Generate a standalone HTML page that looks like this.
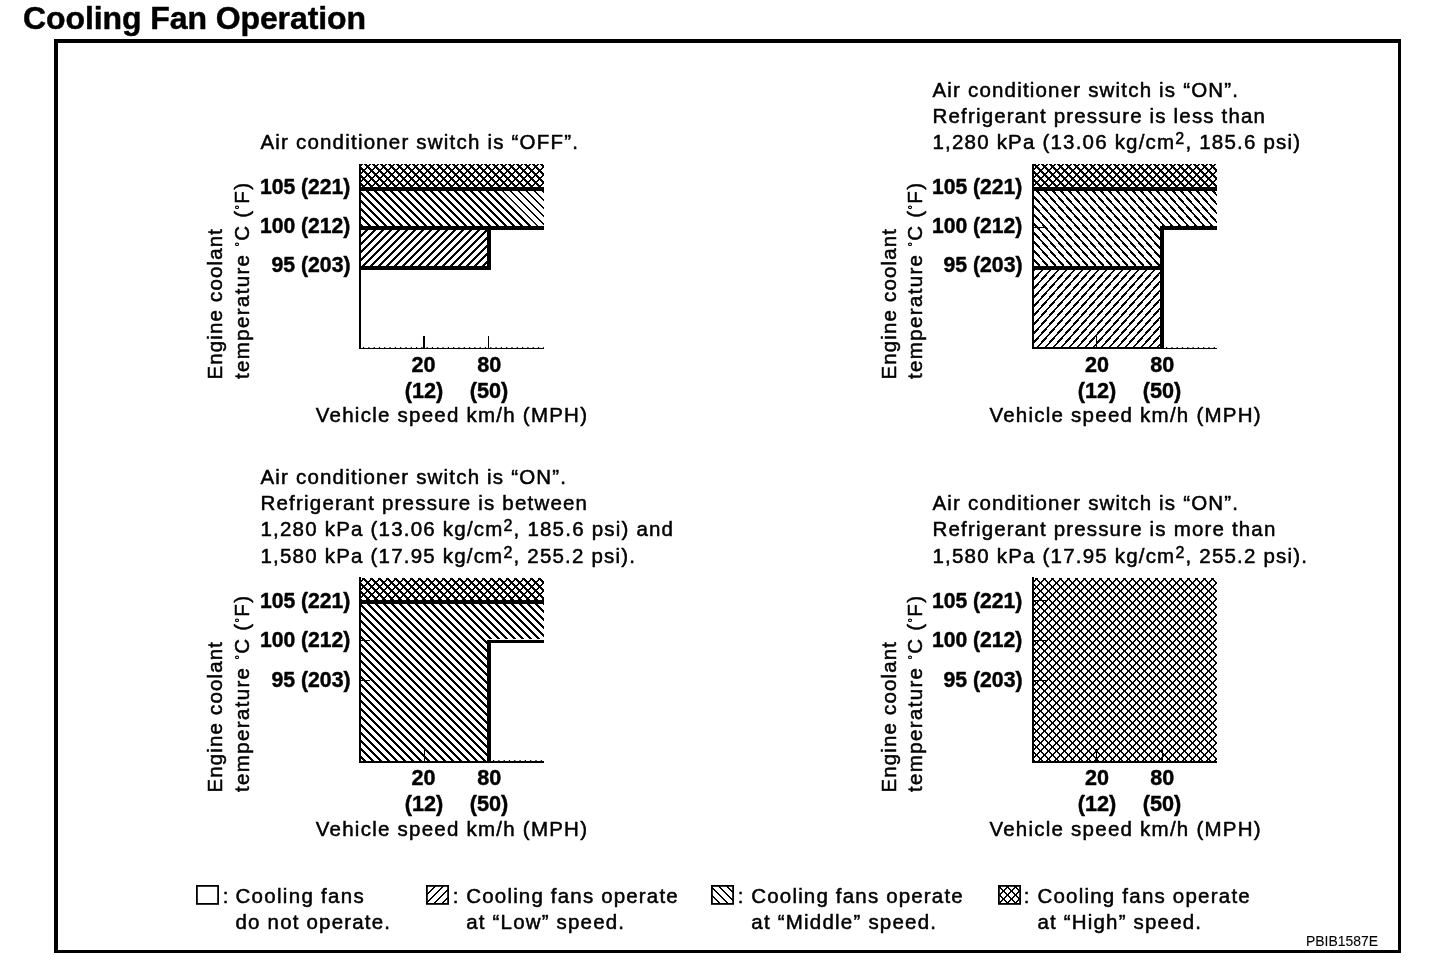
<!DOCTYPE html>
<html lang="en"><head><meta charset="utf-8"><title>Cooling Fan Operation</title>
<style>html,body{margin:0;padding:0;background:#fff}body{width:1440px;height:966px;overflow:hidden}svg{display:block}text{font-family:"Liberation Sans",sans-serif;fill:#000;stroke:#000;stroke-width:0.5px;stroke-linejoin:round}text.b{stroke-width:0.45px}</style>
</head><body>
<svg width="1440" height="966" viewBox="0 0 1440 966">
<defs>
<pattern id="c1hi" patternUnits="userSpaceOnUse" width="8" height="8" x="0" y="0"><path d="M0 0h3v1h-3zM5 0h2v1h-2zM1 1h5v1h-5zM2 2h3v1h-3zM2 3h4v1h-4zM1 4h2v1h-2zM4 4h3v1h-3zM0 5h2v1h-2zM5 5h3v1h-3zM0 6h1v1h-1zM6 6h2v1h-2zM0 7h2v1h-2zM6 7h2v1h-2z" fill="#000" shape-rendering="crispEdges"/></pattern>
<pattern id="c1mid" patternUnits="userSpaceOnUse" width="8" height="8" x="-1" y="0"><path d="M0 0h3v1h-3zM1 1h3v1h-3zM2 2h3v1h-3zM3 3h3v1h-3zM4 4h3v1h-3zM5 5h3v1h-3zM0 6h1v1h-1zM6 6h2v1h-2zM0 7h2v1h-2zM7 7h1v1h-1z" fill="#000" shape-rendering="crispEdges"/></pattern>
<pattern id="c1midt" patternUnits="userSpaceOnUse" width="8" height="8" x="-1" y="0"><path d="M0 0h2v1h-2zM1 1h2v1h-2zM2 2h2v1h-2zM3 3h2v1h-2zM4 4h2v1h-2zM5 5h2v1h-2zM6 6h2v1h-2zM0 7h1v1h-1zM7 7h1v1h-1z" fill="#000" shape-rendering="crispEdges"/></pattern>
<pattern id="c1low" patternUnits="userSpaceOnUse" width="8" height="8" x="3" y="0"><path d="M0 0h3v1h-3zM0 1h2v1h-2zM7 1h1v1h-1zM0 2h1v1h-1zM6 2h2v1h-2zM5 3h3v1h-3zM4 4h3v1h-3zM3 5h3v1h-3zM2 6h3v1h-3zM1 7h3v1h-3z" fill="#000" shape-rendering="crispEdges"/></pattern>
<pattern id="c2hi" patternUnits="userSpaceOnUse" width="8" height="8" x="4" y="0"><path d="M0 0h3v1h-3zM5 0h2v1h-2zM1 1h5v1h-5zM2 2h3v1h-3zM2 3h4v1h-4zM1 4h2v1h-2zM4 4h3v1h-3zM0 5h2v1h-2zM5 5h3v1h-3zM0 6h1v1h-1zM6 6h2v1h-2zM0 7h2v1h-2zM6 7h2v1h-2z" fill="#000" shape-rendering="crispEdges"/></pattern>
<pattern id="c2mid" patternUnits="userSpaceOnUse" width="8" height="9" x="1" y="0"><path d="M0 0h3v1h-3zM1 1h3v1h-3zM2 2h3v1h-3zM3 3h3v1h-3zM4 4h2v1h-2zM5 5h2v1h-2zM6 6h2v1h-2zM0 7h1v1h-1zM7 7h1v1h-1zM0 8h2v1h-2z" fill="#000" shape-rendering="crispEdges"/></pattern>
<pattern id="c2low" patternUnits="userSpaceOnUse" width="8" height="9" x="0" y="0"><path d="M0 0h2v1h-2zM0 1h1v1h-1zM7 1h1v1h-1zM6 2h2v1h-2zM5 3h2v1h-2zM4 4h2v1h-2zM3 5h3v1h-3zM2 6h3v1h-3zM1 7h3v1h-3zM0 8h3v1h-3z" fill="#000" shape-rendering="crispEdges"/></pattern>
<pattern id="c3hi" patternUnits="userSpaceOnUse" width="8" height="8" x="0" y="3"><path d="M0 0h3v1h-3zM5 0h2v1h-2zM1 1h5v1h-5zM2 2h3v1h-3zM2 3h4v1h-4zM1 4h2v1h-2zM4 4h3v1h-3zM0 5h2v1h-2zM5 5h3v1h-3zM0 6h1v1h-1zM6 6h2v1h-2zM0 7h2v1h-2zM6 7h2v1h-2z" fill="#000" shape-rendering="crispEdges"/></pattern>
<pattern id="c3mid" patternUnits="userSpaceOnUse" width="8" height="8" x="0" y="0"><path d="M0 0h3v1h-3zM1 1h3v1h-3zM2 2h3v1h-3zM3 3h3v1h-3zM4 4h3v1h-3zM5 5h3v1h-3zM0 6h1v1h-1zM6 6h2v1h-2zM0 7h2v1h-2zM7 7h1v1h-1z" fill="#000" shape-rendering="crispEdges"/></pattern>
<pattern id="c4hi" patternUnits="userSpaceOnUse" width="8" height="8" x="0" y="3"><path d="M0 0h2v1h-2zM5 0h2v1h-2zM1 1h2v1h-2zM4 1h2v1h-2zM2 2h3v1h-3zM2 3h3v1h-3zM1 4h2v1h-2zM4 4h2v1h-2zM0 5h2v1h-2zM5 5h2v1h-2zM0 6h1v1h-1zM6 6h2v1h-2zM0 7h1v1h-1zM6 7h2v1h-2z" fill="#000" shape-rendering="crispEdges"/></pattern>
<pattern id="lglow" patternUnits="userSpaceOnUse" width="8" height="8" x="0" y="0"><path d="M0 0h2v1h-2zM0 1h1v1h-1zM7 1h1v1h-1zM6 2h2v1h-2zM5 3h2v1h-2zM4 4h2v1h-2zM3 5h2v1h-2zM2 6h2v1h-2zM1 7h2v1h-2z" fill="#000" shape-rendering="crispEdges"/></pattern>
<pattern id="lgmid" patternUnits="userSpaceOnUse" width="8" height="8" x="0" y="0"><path d="M0 0h2v1h-2zM1 1h2v1h-2zM2 2h2v1h-2zM3 3h2v1h-2zM4 4h2v1h-2zM5 5h2v1h-2zM6 6h2v1h-2zM0 7h1v1h-1zM7 7h1v1h-1z" fill="#000" shape-rendering="crispEdges"/></pattern>
<pattern id="lghi" patternUnits="userSpaceOnUse" width="8" height="8" x="0" y="0"><path d="M0 0h2v1h-2zM5 0h2v1h-2zM1 1h2v1h-2zM4 1h2v1h-2zM2 2h3v1h-3zM2 3h3v1h-3zM1 4h2v1h-2zM4 4h2v1h-2zM0 5h2v1h-2zM5 5h2v1h-2zM0 6h1v1h-1zM6 6h2v1h-2zM0 7h1v1h-1zM6 7h2v1h-2z" fill="#000" shape-rendering="crispEdges"/></pattern>
</defs>
<rect x="0" y="0" width="1440" height="966" fill="#fff"/>
<text x="23" y="29" font-size="32" font-weight="bold" class="b" textLength="343">Cooling Fan Operation</text>
<rect x="54" y="39" width="1347" height="4" fill="#000"/>
<rect x="54" y="39" width="4" height="914" fill="#000"/>
<rect x="1398" y="39" width="3" height="914" fill="#000"/>
<rect x="54" y="950" width="1347" height="3" fill="#000"/>
<text x="260.4" y="149.2" font-size="20.5" textLength="317.5">Air conditioner switch is “OFF”.</text>
<g transform="translate(0 0)">
<rect x="361" y="164" width="183" height="23" fill="url(#c1hi)"/>
<path d="M361 191H502L537 226H361Z" fill="url(#c1mid)"/>
<path d="M502 191H544V226H537Z" fill="url(#c1midt)"/>
<rect x="361" y="230" width="126" height="36" fill="url(#c1low)"/>
<rect x="359" y="187" width="185" height="4" fill="#000"/>
<rect x="359" y="226" width="185" height="4" fill="#000"/>
<rect x="359" y="266" width="132" height="4" fill="#000"/>
<rect x="487" y="226" width="4" height="44" fill="#000"/>
<rect x="423" y="336" width="2" height="12" fill="#000"/>
<rect x="488" y="336" width="1" height="12" fill="#000"/>
<rect x="359" y="348" width="185" height="1" fill="#000"/>
<path d="M363 347.5H544" stroke="#000" stroke-width="1" stroke-dasharray="1.2 4.1" fill="none"/>
<rect x="359" y="164" width="2" height="185" fill="#000"/>
<text x="259.9" y="193.7" font-size="22" font-weight="bold" class="b" textLength="90.5" lengthAdjust="spacingAndGlyphs">105 (221)</text>
<text x="259.9" y="232.7" font-size="22" font-weight="bold" class="b" textLength="90.5" lengthAdjust="spacingAndGlyphs">100 (212)</text>
<text x="271.5" y="272.4" font-size="22" font-weight="bold" class="b" textLength="79" lengthAdjust="spacingAndGlyphs">95 (203)</text>
<text x="411.5" y="372.1" font-size="22" font-weight="bold" class="b" textLength="24" lengthAdjust="spacingAndGlyphs">20</text>
<text x="477.3" y="372.1" font-size="22" font-weight="bold" class="b" textLength="24" lengthAdjust="spacingAndGlyphs">80</text>
<text x="404.7" y="398.2" font-size="22" font-weight="bold" class="b" textLength="38.5" lengthAdjust="spacingAndGlyphs">(12)</text>
<text x="469.7" y="398.2" font-size="22" font-weight="bold" class="b" textLength="38.5" lengthAdjust="spacingAndGlyphs">(50)</text>
<text x="315.8" y="422.4" font-size="20.5" textLength="271.2">Vehicle speed km/h (MPH)</text>
<text x="222.5" y="379.6" font-size="20.5" textLength="150.6" transform="rotate(-90 222.5 379.6)">Engine coolant</text>
<text x="249.4" y="379" font-size="20.5" textLength="196" transform="rotate(-90 249.4 379)">temperature <tspan font-size="11" dy="-6">°</tspan><tspan dy="6">C (</tspan><tspan font-size="11" dy="-6">°</tspan><tspan dy="6">F)</tspan></text>
</g>
<text x="932.5" y="97.2" font-size="20.5" textLength="305.5">Air conditioner switch is “ON”.</text>
<text x="932.5" y="123.3" font-size="20.5" textLength="332.5">Refrigerant pressure is less than</text>
<text x="932.5" y="149.3" font-size="20.5" textLength="367.5">1,280 kPa (13.06 kg/cm<tspan font-size="16" dy="-5.5">2</tspan><tspan dy="5.5">, 185.6 psi)</tspan></text>
<g transform="translate(673 0)">
<rect x="361" y="164" width="183" height="23" fill="url(#c2hi)"/>
<path d="M361 191H544V226H487V266H361Z" fill="url(#c2mid)"/>
<rect x="361" y="270" width="126" height="79" fill="url(#c2low)"/>
<rect x="359" y="187" width="185" height="4" fill="#000"/>
<rect x="487" y="226" width="57" height="4" fill="#000"/>
<rect x="359" y="266" width="132" height="4" fill="#000"/>
<rect x="487" y="226" width="4" height="123" fill="#000"/>
<rect x="361" y="227" width="11" height="1" fill="#000"/>
<rect x="423" y="336" width="1" height="12" fill="#000"/>
<rect x="359" y="348" width="185" height="1" fill="#000"/>
<rect x="359" y="347" width="132" height="1" fill="#000"/>
<path d="M493 347.5H544" stroke="#000" stroke-width="1" stroke-dasharray="1.2 4.1" fill="none"/>
<rect x="359" y="164" width="2" height="185" fill="#000"/>
<text x="258.9" y="193.7" font-size="22" font-weight="bold" class="b" textLength="90.5" lengthAdjust="spacingAndGlyphs">105 (221)</text>
<text x="258.9" y="232.7" font-size="22" font-weight="bold" class="b" textLength="90.5" lengthAdjust="spacingAndGlyphs">100 (212)</text>
<text x="270.5" y="272.4" font-size="22" font-weight="bold" class="b" textLength="79" lengthAdjust="spacingAndGlyphs">95 (203)</text>
<text x="412.1" y="372.1" font-size="22" font-weight="bold" class="b" textLength="24" lengthAdjust="spacingAndGlyphs">20</text>
<text x="477.3" y="372.1" font-size="22" font-weight="bold" class="b" textLength="24" lengthAdjust="spacingAndGlyphs">80</text>
<text x="404.7" y="398.2" font-size="22" font-weight="bold" class="b" textLength="38.5" lengthAdjust="spacingAndGlyphs">(12)</text>
<text x="469.7" y="398.2" font-size="22" font-weight="bold" class="b" textLength="38.5" lengthAdjust="spacingAndGlyphs">(50)</text>
<text x="316.4" y="422.4" font-size="20.5" textLength="271.2">Vehicle speed km/h (MPH)</text>
<text x="223.1" y="379.6" font-size="20.5" textLength="150.6" transform="rotate(-90 223.1 379.6)">Engine coolant</text>
<text x="249.4" y="379" font-size="20.5" textLength="196" transform="rotate(-90 249.4 379)">temperature <tspan font-size="11" dy="-6">°</tspan><tspan dy="6">C (</tspan><tspan font-size="11" dy="-6">°</tspan><tspan dy="6">F)</tspan></text>
</g>
<text x="260.5" y="484" font-size="20.5" textLength="305.5">Air conditioner switch is “ON”.</text>
<text x="260.5" y="510.3" font-size="20.5" textLength="326.5">Refrigerant pressure is between</text>
<text x="260.5" y="536.4" font-size="20.5" textLength="412.5">1,280 kPa (13.06 kg/cm<tspan font-size="16" dy="-5.5">2</tspan><tspan dy="5.5">, 185.6 psi) and</tspan></text>
<text x="260.5" y="563.2" font-size="20.5" textLength="374.5">1,580 kPa (17.95 kg/cm<tspan font-size="16" dy="-5.5">2</tspan><tspan dy="5.5">, 255.2 psi).</tspan></text>
<g transform="translate(0 413)">
<rect x="361" y="165" width="183" height="22" fill="url(#c3hi)"/>
<path d="M361 191H544V226H487V349H361Z" fill="url(#c3mid)"/>
<rect x="359" y="187" width="185" height="4" fill="#000"/>
<rect x="487" y="227" width="57" height="3" fill="#000"/>
<rect x="487" y="227" width="4" height="123" fill="#000"/>
<rect x="361" y="227" width="9" height="1" fill="#000"/>
<rect x="361" y="267" width="9" height="1" fill="#000"/>
<rect x="424" y="336" width="1" height="12" fill="#000"/>
<rect x="359" y="348" width="185" height="2" fill="#000"/>
<path d="M493 347.5H544" stroke="#000" stroke-width="1" stroke-dasharray="1.2 4.1" fill="none"/>
<rect x="359" y="349" width="2" height="1" fill="#000"/>
<rect x="359" y="164" width="2" height="185" fill="#000"/>
<text x="259.9" y="194.9" font-size="22" font-weight="bold" class="b" textLength="90.5" lengthAdjust="spacingAndGlyphs">105 (221)</text>
<text x="259.9" y="233.9" font-size="22" font-weight="bold" class="b" textLength="90.5" lengthAdjust="spacingAndGlyphs">100 (212)</text>
<text x="271.5" y="273.6" font-size="22" font-weight="bold" class="b" textLength="79" lengthAdjust="spacingAndGlyphs">95 (203)</text>
<text x="411.5" y="372.1" font-size="22" font-weight="bold" class="b" textLength="24" lengthAdjust="spacingAndGlyphs">20</text>
<text x="477.3" y="372.1" font-size="22" font-weight="bold" class="b" textLength="24" lengthAdjust="spacingAndGlyphs">80</text>
<text x="404.7" y="398.2" font-size="22" font-weight="bold" class="b" textLength="38.5" lengthAdjust="spacingAndGlyphs">(12)</text>
<text x="469.7" y="398.2" font-size="22" font-weight="bold" class="b" textLength="38.5" lengthAdjust="spacingAndGlyphs">(50)</text>
<text x="315.8" y="423.2" font-size="20.5" textLength="271.2">Vehicle speed km/h (MPH)</text>
<text x="222.5" y="379.6" font-size="20.5" textLength="150.6" transform="rotate(-90 222.5 379.6)">Engine coolant</text>
<text x="249.4" y="379" font-size="20.5" textLength="196" transform="rotate(-90 249.4 379)">temperature <tspan font-size="11" dy="-6">°</tspan><tspan dy="6">C (</tspan><tspan font-size="11" dy="-6">°</tspan><tspan dy="6">F)</tspan></text>
</g>
<text x="932.5" y="510.3" font-size="20.5" textLength="305.5">Air conditioner switch is “ON”.</text>
<text x="932.5" y="536.4" font-size="20.5" textLength="342.8">Refrigerant pressure is more than</text>
<text x="932.5" y="563.2" font-size="20.5" textLength="374.5">1,580 kPa (17.95 kg/cm<tspan font-size="16" dy="-5.5">2</tspan><tspan dy="5.5">, 255.2 psi).</tspan></text>
<g transform="translate(673 413)">
<rect x="361" y="165" width="183" height="184" fill="url(#c4hi)"/>
<rect x="361" y="187" width="12" height="1" fill="#000"/>
<rect x="361" y="227" width="12" height="1" fill="#000"/>
<rect x="361" y="267" width="12" height="1" fill="#000"/>
<rect x="423" y="336" width="1" height="12" fill="#000"/>
<rect x="489" y="336" width="1" height="12" fill="#000"/>
<rect x="359" y="348" width="185" height="2" fill="#000"/>
<rect x="359" y="349" width="2" height="1" fill="#000"/>
<rect x="359" y="164" width="2" height="185" fill="#000"/>
<text x="258.9" y="194.9" font-size="22" font-weight="bold" class="b" textLength="90.5" lengthAdjust="spacingAndGlyphs">105 (221)</text>
<text x="258.9" y="233.9" font-size="22" font-weight="bold" class="b" textLength="90.5" lengthAdjust="spacingAndGlyphs">100 (212)</text>
<text x="270.5" y="273.6" font-size="22" font-weight="bold" class="b" textLength="79" lengthAdjust="spacingAndGlyphs">95 (203)</text>
<text x="412.1" y="372.1" font-size="22" font-weight="bold" class="b" textLength="24" lengthAdjust="spacingAndGlyphs">20</text>
<text x="477.3" y="372.1" font-size="22" font-weight="bold" class="b" textLength="24" lengthAdjust="spacingAndGlyphs">80</text>
<text x="404.7" y="398.2" font-size="22" font-weight="bold" class="b" textLength="38.5" lengthAdjust="spacingAndGlyphs">(12)</text>
<text x="469.7" y="398.2" font-size="22" font-weight="bold" class="b" textLength="38.5" lengthAdjust="spacingAndGlyphs">(50)</text>
<text x="316.4" y="423.2" font-size="20.5" textLength="271.2">Vehicle speed km/h (MPH)</text>
<text x="223.1" y="379.6" font-size="20.5" textLength="150.6" transform="rotate(-90 223.1 379.6)">Engine coolant</text>
<text x="249.4" y="379" font-size="20.5" textLength="196" transform="rotate(-90 249.4 379)">temperature <tspan font-size="11" dy="-6">°</tspan><tspan dy="6">C (</tspan><tspan font-size="11" dy="-6">°</tspan><tspan dy="6">F)</tspan></text>
</g>
<rect x="196.9" y="885.9" width="21.2" height="18" fill="#fff" stroke="#000" stroke-width="1.8"/>
<text x="222.7" y="902.8" font-size="20.5">:</text>
<text x="235.5" y="902.8" font-size="20.5" textLength="128.2">Cooling fans</text>
<text x="235.5" y="928.8" font-size="20.5" textLength="154.5">do not operate.</text>
<rect x="426.9" y="885.9" width="21.2" height="18" fill="url(#lglow)" stroke="#000" stroke-width="1.8"/>
<text x="452.7" y="902.8" font-size="20.5">:</text>
<text x="466.3" y="902.8" font-size="20.5" textLength="211.4">Cooling fans operate</text>
<text x="466.3" y="928.8" font-size="20.5" textLength="157.7">at “Low” speed.</text>
<rect x="711.9" y="885.9" width="21.2" height="18" fill="url(#lgmid)" stroke="#000" stroke-width="1.8"/>
<text x="737.7" y="902.8" font-size="20.5">:</text>
<text x="751.3" y="902.8" font-size="20.5" textLength="211.4">Cooling fans operate</text>
<text x="751.3" y="928.8" font-size="20.5" textLength="184.7">at “Middle” speed.</text>
<rect x="998.9" y="885.9" width="21.2" height="18" fill="url(#lghi)" stroke="#000" stroke-width="1.8"/>
<text x="1023.8" y="902.8" font-size="20.5">:</text>
<text x="1037.4" y="902.8" font-size="20.5" textLength="212.3">Cooling fans operate</text>
<text x="1037.4" y="928.8" font-size="20.5" textLength="163.6">at “High” speed.</text>
<text x="1306" y="946" font-size="15" textLength="72" lengthAdjust="spacingAndGlyphs" style="stroke-width:0.1px">PBIB1587E</text>
</svg>
</body></html>
